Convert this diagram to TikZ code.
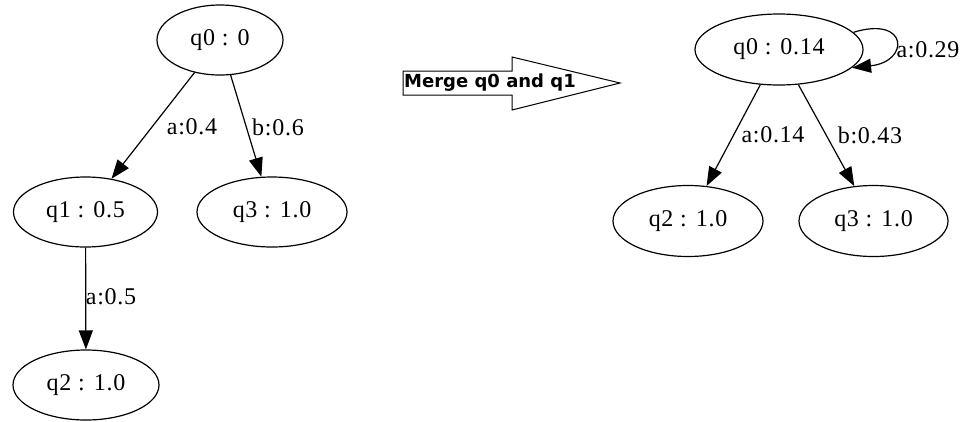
\documentclass[tikz,border=0pt]{standalone}
\usepackage{fontspec}
\setmainfont{Liberation Serif}
\newfontfamily\statefont[LetterSpace=3]{Liberation Serif}
\newfontfamily\bannerfont{DejaVu Sans}
\usetikzlibrary{shapes.geometric,arrows.meta}
\begin{document}
\begin{tikzpicture}[x=1pt,y=-1pt,
  state/.style={draw, ellipse, line width=1.2pt, minimum height=70pt,
    inner sep=0pt, font=\statefont\fontsize{24}{28}\selectfont},
  trans/.style={draw, line width=1.2pt, -{Triangle[length=19pt,width=14pt]}},
  elabel/.style={font=\statefont\fontsize{24}{28}\selectfont, inner sep=0pt},
  banner/.style={font=\bannerfont\bfseries\fontsize{18}{20}\selectfont, inner sep=0pt}]
\useasboundingbox (0,0) rectangle (965,421);

% original automaton
\node[state, minimum width=126pt] (lq0) at (220,40) {q0 : 0};
\node[state, minimum width=144pt] (lq1) at (85.5,212) {q1 : 0.5};
\node[state, minimum width=150pt] (lq3) at (272,212) {q3 : 1.0};
\node[state, minimum width=146pt] (lq2) at (86,385) {q2 : 1.0};
\draw[trans] (lq0) -- (lq1);
\draw[trans] (lq0) -- (lq3);
\draw[trans] (lq1) -- (lq2);
\node[elabel] (la01) at (192,127) {a:0.4};
\node[elabel] (lb03) at (278,127) {b:0.6};
\node[elabel] (la12) at (111,297) {a:0.5};

% merge step arrow
\draw[line width=1pt, line join=miter] (403,71) -- (512,71) -- (512,57) -- (620,83)
  -- (512,110) -- (512,95) -- (403,95) -- cycle;
\node[banner] (merge) at (490,83) {Merge q0 and q1};

% merged automaton
\node[state, minimum width=168pt, minimum height=71pt] (rq0) at (779,49.5) {q0 : 0.14};
\node[state, minimum width=150pt, minimum height=71pt] (rq2) at (688,221) {q2 : 1.0};
\node[state, minimum width=149pt, minimum height=71pt] (rq3) at (873.5,221) {q3 : 1.0};
\draw[trans] (rq0) -- (rq2);
\draw[trans] (rq0) -- (rq3);
\draw[trans] (rq0.13) .. controls +(55,-17) and +(58,-6) .. (rq0.-14);
\node[elabel] (ra00) at (928,50) {a:0.29};
\node[elabel] (ra02) at (773,135) {a:0.14};
\node[elabel] (rb03) at (870,135) {b:0.43};
\end{tikzpicture}
\end{document}
